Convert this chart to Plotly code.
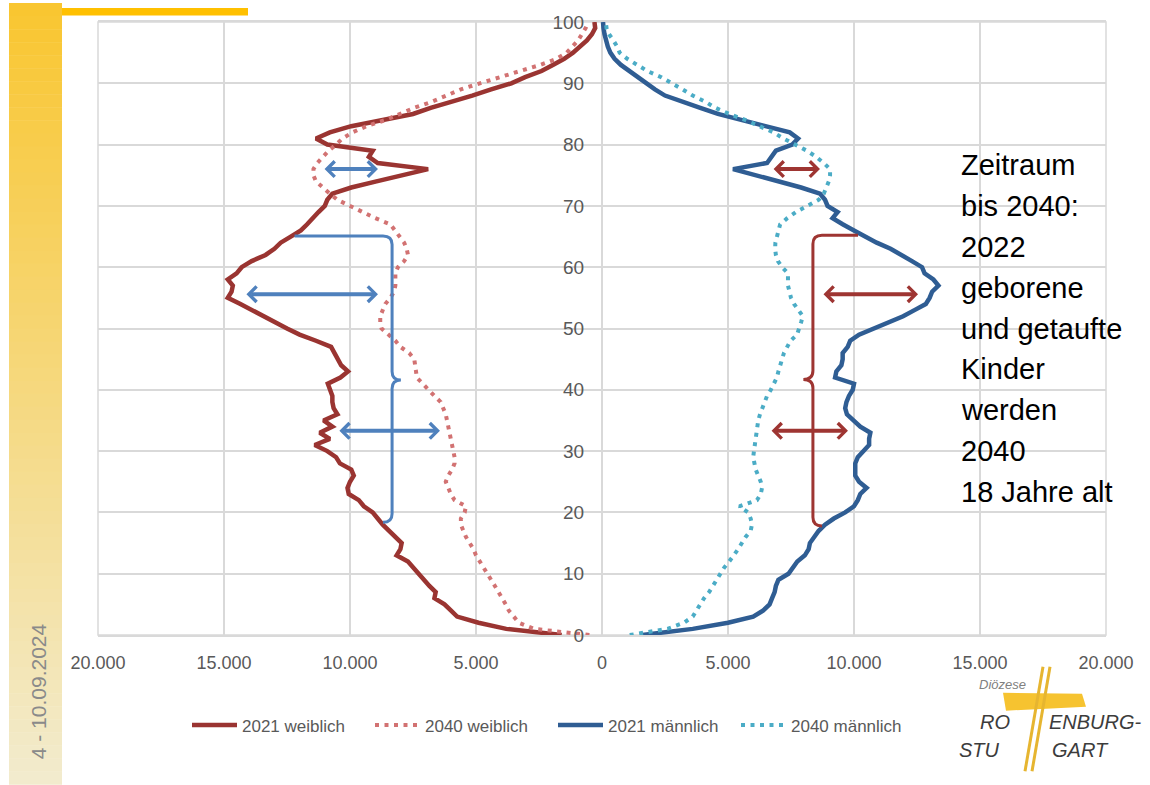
import plotly.graph_objects as go

# ---------------------------------------------------------------- data
ages = list(range(0, 101))

female_2021 = [
    1600, 3800, 4900, 5750, 6000, 6250, 6650, 6600, 6850, 7050,
    7250, 7450, 7700, 8150, 8000, 7950, 8200, 8500, 8700, 8900,
    9100, 9450, 9650, 10050, 10100, 10000, 9850, 9950, 10400, 10550,
    10900, 11400, 10800, 11200, 10700, 11050, 10500, 10650, 10700, 10700,
    10800, 10880, 10380, 10080, 10350, 10500, 10600, 10750, 11350, 12000,
    12500, 12950, 13450, 13900, 14350, 14850, 14700, 14650, 14850, 14500,
    14300, 13900, 13350, 13000, 12750, 12350, 11950, 11700, 11500, 11250,
    11000, 10900, 10700, 9950, 8950, 7950, 6900, 8900, 9250, 9100,
    10900, 11350, 10800, 9950, 8600, 7500, 6800, 5900, 5150, 4400,
    3600, 3050, 2400, 1950, 1500, 1150, 870, 600, 400, 270, 300,
]

female_2040 = [
    500, 2700, 3300, 3500, 3700, 3820, 3950, 4100, 4250, 4400,
    4550, 4700, 4850, 5000, 5100, 5250, 5400, 5500, 5600, 5600,
    5450, 5400, 5850, 6000, 6100, 6200, 6100, 5950, 5850, 5850,
    5900, 5950, 6000, 6050, 6100, 6150, 6200, 6300, 6400, 6650,
    6900, 7150, 7350, 7380, 7400, 7450, 7650, 8000, 8200, 8500,
    8750, 8800, 8800, 8700, 8600, 8400, 8250, 8200, 8200, 8200,
    8100, 7850, 7700, 7750, 7850, 8050, 8200, 8400, 9000, 9500,
    10000, 10500, 10800, 11100, 11350, 11450, 11450, 11300, 11100, 10850,
    10550, 10300, 9900, 9350, 8600, 8050, 7450, 6750, 6150, 5600,
    4850, 4100, 3250, 2450, 1800, 1400, 1150, 950, 800, 650, 550,
]

male_2021 = [
    1600, 3600, 5000, 6000, 6400, 6650, 6750, 6850, 6900, 7000,
    7400, 7600, 7750, 8050, 8200, 8250, 8400, 8600, 8850, 9200,
    9650, 10000, 10150, 10250, 10500, 10200, 10050, 10050, 10050, 10150,
    10400, 10600, 10600, 10650, 10250, 9950, 9720, 9650, 9700, 9800,
    9950, 10000, 9250, 9300, 9500, 9550, 9550, 9750, 9850, 10200,
    10800, 11400, 11950, 12400, 12850, 13000, 13100, 13350, 13150, 12800,
    12700, 12300, 11900, 11450, 10900, 10400, 10000, 9550, 9150, 9350,
    8950, 8850, 8650, 7900, 7000, 6100, 5200, 6550, 6750, 6900,
    7550, 7780, 7450, 6500, 5500, 4600, 3900, 3150, 2500, 2100,
    1750, 1450, 1050, 750, 500, 330, 230, 150, 100, 60, 40,
]

male_2040 = [
    1100, 2600, 3250, 3600, 3750, 3900, 4050, 4250, 4400, 4550,
    4700, 4850, 5050, 5250, 5400, 5550, 5700, 5900, 5950, 5900,
    5800, 5450, 6150, 6300, 6350, 6300, 6200, 6100, 6050, 6000,
    6030, 6060, 6080, 6120, 6170, 6200, 6270, 6350, 6450, 6550,
    6700, 6820, 6940, 7000, 7060, 7120, 7220, 7350, 7480, 7740,
    7800, 7900, 7970, 7800, 7620, 7500, 7420, 7380, 7380, 7380,
    7150, 6980, 6900, 6870, 6880, 6930, 7000, 7070, 7350, 7700,
    8150, 8600, 8800, 8920, 9000, 9050, 9050, 8800, 8500, 8130,
    7650, 7200, 6800, 6250, 5700, 5050, 4500, 4100, 3600, 3200,
    2750, 2350, 1800, 1400, 1000, 700, 600, 450, 280, 180, 150,
]

series_names = ["2021 weiblich", "2040 weiblich", "2021 männlich", "2040 männlich"]
x_tick_values = [-20000, -15000, -10000, -5000, 0, 5000, 10000, 15000, 20000]
x_tick_labels = ["20.000", "15.000", "10.000", "5.000", "0",
                 "5.000", "10.000", "15.000", "20.000"]
side_text = ["Zeitraum", "bis 2040:", "2022", "geborene", "und getaufte",
             "Kinder", "werden", "2040", "18 Jahre alt"]
date_label = "4 - 10.09.2024"

# ---------------------------------------------------------------- page geometry
W, H = 1150, 785
ML, MR, MT, MB = 98, 44, 19, 150
PW = W - ML - MR
PH = H - MT - MB


def fx(px):
    return (px - ML) / PW


def fy(py):
    return (H - MB - py) / PH


RED = "#9a3431"
RED_LIGHT = "#d27272"
BLUE = "#2f5d93"
CYAN = "#4bacc6"
MARK_BLUE = "#4f81bd"
MARK_RED = "#9e3532"
GRID = "#d9d9d9"
TXT = "#595959"
FONT = "Liberation Sans, Arial, sans-serif"
DOTS = "4px,5.5px"

fig = go.Figure()
fig.add_trace(go.Scatter(x=[-v for v in female_2021], y=ages, mode="lines",
                         name=series_names[0], line=dict(color=RED, width=4.5)))
fig.add_trace(go.Scatter(x=[-v for v in female_2040], y=ages, mode="lines",
                         name=series_names[1], line=dict(color=RED_LIGHT, width=4, dash=DOTS)))
fig.add_trace(go.Scatter(x=male_2021, y=ages, mode="lines",
                         name=series_names[2], line=dict(color=BLUE, width=4.5)))
fig.add_trace(go.Scatter(x=male_2040, y=ages, mode="lines",
                         name=series_names[3], line=dict(color=CYAN, width=4, dash=DOTS)))

shapes = []
annotations = []

# plot frame
shapes.append(dict(type="rect", xref="paper", yref="paper", x0=0, x1=1, y0=0, y1=1,
                   line=dict(color=GRID, width=1.5), layer="below"))

# ---------------------------------------------------------------- brackets
shapes.append(dict(
    type="path", xref="x", yref="y", line=dict(color=MARK_BLUE, width=3),
    path=("M -12200,65.1 L -8690,65.1 Q -8330,65.1 -8330,63.7 L -8330,43.0 "
          "Q -8330,41.6 -7980,41.6 Q -8330,41.6 -8330,40.2 L -8330,19.8 "
          "Q -8330,18.4 -8690,18.4"),
))
shapes.append(dict(
    type="path", xref="x", yref="y", line=dict(color=MARK_RED, width=3),
    path=("M 10160,65.2 L 8730,65.2 Q 8370,65.2 8370,63.8 L 8370,43.1 "
          "Q 8370,41.7 7990,41.7 Q 8370,41.7 8370,40.3 L 8370,19.2 "
          "Q 8370,17.8 8730,17.8"),
))

# ---------------------------------------------------------------- double arrows
arrow_marks = [
    (76.0, -11070, -8890, MARK_BLUE),
    (55.6, -14170, -8890, MARK_BLUE),
    (33.3, -10480, -6430, MARK_BLUE),
    (76.0, 6750, 8650, MARK_RED),
    (55.6, 8730, 12540, MARK_RED),
    (33.3, 6670, 9760, MARK_RED),
]
for age, x_from, x_to, col in arrow_marks:
    annotations.append(dict(
        x=x_to, y=age, ax=x_from, ay=age, xref="x", yref="y", axref="x", ayref="y",
        text="", showarrow=True, arrowhead=4, startarrowhead=4, arrowside="end+start",
        arrowsize=0.75, startarrowsize=0.75, arrowwidth=4, arrowcolor=col,
        standoff=0, startstandoff=0,
    ))

# ---------------------------------------------------------------- side text
for i, line in enumerate(side_text):
    annotations.append(dict(
        x=fx(959), y=fy(163 + 41 * i), xref="paper", yref="paper",
        xanchor="left", yanchor="middle", showarrow=False, text=line,
        font=dict(family=FONT, size=29, color="#000000"),
    ))

# ---------------------------------------------------------------- slide frame
top_rgb = (249, 198, 49)
bottom_rgb = (242, 235, 205)
n_bands = 60
for i in range(n_bands):
    t = i / (n_bands - 1)
    c = tuple(round(a + (b - a) * t) for a, b in zip(top_rgb, bottom_rgb))
    y0 = i * H / n_bands
    y1 = (i + 1) * H / n_bands + 0.6
    shapes.append(dict(type="rect", xref="paper", yref="paper",
                       x0=fx(9), x1=fx(62), y0=fy(y0), y1=fy(y1),
                       fillcolor="rgb(%d,%d,%d)" % c, line=dict(width=0), layer="below"))
shapes.append(dict(type="rect", xref="paper", yref="paper",
                   x0=fx(62), x1=fx(248), y0=fy(5), y1=fy(12.5),
                   fillcolor="#ffc000", line=dict(width=0), layer="below"))
annotations.append(dict(
    x=fx(38.5), y=fy(692), xref="paper", yref="paper", showarrow=False,
    text=date_label, textangle=-90, xanchor="center", yanchor="middle",
    font=dict(family=FONT, size=21, color="#8a8a8a"),
))

# ---------------------------------------------------------------- diocese logo
shapes.append(dict(type="path", xref="paper", yref="paper",
                   path="M %f,%f L %f,%f L %f,%f L %f,%f Z" % (
                       fx(1003), fy(693), fx(1082), fy(694),
                       fx(1086), fy(707), fx(1006), fy(711)),
                   fillcolor="#f6c330", line=dict(width=0)))
for top_x, bot_x in [(1043, 1025), (1050, 1032)]:
    shapes.append(dict(type="line", xref="paper", yref="paper",
                       x0=fx(top_x), y0=fy(667), x1=fx(bot_x), y1=fy(772),
                       line=dict(color="#e6b530", width=3)))
logo_font = dict(family=FONT, size=20, color="#3c3c3c", style="italic")
for txt, lx, ly, fnt in [
    ("Diözese", 977, 685, dict(family=FONT, size=13, color="#808080", style="italic")),
    ("RO", 978, 722, logo_font),
    ("ENBURG-", 1047, 722, logo_font),
    ("STU", 957, 751, logo_font),
    ("GART", 1050, 751, logo_font),
]:
    annotations.append(dict(x=fx(lx), y=fy(ly), xref="paper", yref="paper",
                            xanchor="left", yanchor="middle", showarrow=False,
                            text=txt, font=fnt))

# ---------------------------------------------------------------- layout
fig.update_layout(
    width=W, height=H,
    margin=dict(l=ML, r=MR, t=MT, b=MB),
    paper_bgcolor="white", plot_bgcolor="white",
    font=dict(family=FONT, color=TXT),
    showlegend=True,
    legend=dict(orientation="h", x=fx(187), y=fy(726), xanchor="left", yanchor="middle",
                font=dict(family=FONT, size=17, color=TXT), itemwidth=45,
                entrywidth=123, bgcolor="rgba(0,0,0,0)"),
    shapes=shapes,
    annotations=annotations,
    hovermode=False,
)
fig.update_xaxes(
    range=[-20000, 20000], tickvals=x_tick_values, ticktext=x_tick_labels,
    showgrid=True, gridcolor=GRID, gridwidth=1.5,
    zeroline=True, zerolinecolor=GRID, zerolinewidth=1.5,
    showline=True, mirror=True, linecolor=GRID, linewidth=1.5,
    ticks="outside", ticklen=11, tickcolor="rgba(0,0,0,0)",
    tickfont=dict(family=FONT, size=18, color=TXT), fixedrange=True,
)
fig.update_yaxes(
    range=[0, 100], tick0=0, dtick=10,
    showgrid=True, gridcolor=GRID, gridwidth=1.5, zeroline=False,
    anchor="free", position=0.5, showline=False,
    ticks="outside", ticklen=14, tickcolor="rgba(0,0,0,0)",
    tickfont=dict(family=FONT, size=19, color=TXT), fixedrange=True,
)

fig.write_html("out.html")
